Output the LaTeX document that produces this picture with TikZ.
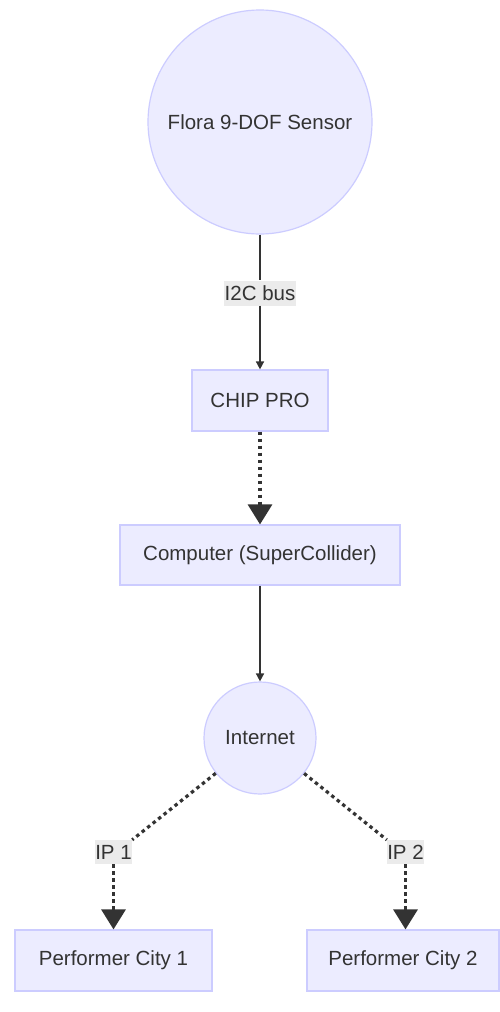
\documentclass[tikz,border=0pt]{standalone}
\usepackage{fontspec}
\setmainfont{Liberation Sans}
\usetikzlibrary{arrows.meta}
\definecolor{nodefill}{HTML}{ECECFF}
\definecolor{nodedraw}{HTML}{CCCCFF}
\definecolor{txt}{HTML}{333333}
\definecolor{lblfill}{HTML}{E8E8E8}
\tikzset{
  base/.style={fill=nodefill, draw=nodedraw, line width=1.2pt, text=txt, font=\fontsize{20.5}{24}\selectfont, inner sep=0pt},
  roundnode/.style={base, circle},
  boxnode/.style={base, rectangle},
  lbl/.style={fill=lblfill, fill opacity=0.85, text opacity=1, text=txt, font=\fontsize{20.5}{24}\selectfont, inner sep=0pt},
  solidedge/.style={draw=txt, line width=1.6pt},
  dottededge/.style={draw=txt, line width=3.2pt, dash pattern=on 3.5pt off 3.5pt},
  smallhead/.style={-{Triangle[width=8pt,length=8pt]}},
  bighead/.style={-{Triangle[width=24pt,length=20pt]}},
}
\begin{document}
\begin{tikzpicture}[x=1pt,y=-1pt]
\fill[white] (0,0) rectangle (500,1012);
\useasboundingbox (0,0) rectangle (500,1012);

\node[roundnode, minimum size=224pt] (flora) at (260,122) {Flora 9-DOF Sensor};
\node[lbl, minimum width=72pt, minimum height=25pt] (i2c) at (260,293) {I2C bus};
\node[boxnode, minimum width=136pt, minimum height=61pt] (chip) at (260,400.5) {CHIP PRO};
\node[boxnode, minimum width=280pt, minimum height=60pt] (comp) at (260,555) {Computer (SuperCollider)};
\node[roundnode, minimum size=112pt] (inet) at (260,738) {Internet};
\node[lbl, minimum width=37pt, minimum height=24pt] (ip1) at (113.5,852) {IP 1};
\node[lbl, minimum width=37pt, minimum height=24pt] (ip2) at (405.5,852) {IP 2};
\node[boxnode, minimum width=197pt, minimum height=61pt] (city1) at (113.5,960.5) {Performer City 1};
\node[boxnode, minimum width=192pt, minimum height=61pt] (city2) at (403,960.5) {Performer City 2};

\draw[solidedge] (flora.south) -- (i2c.north);
\draw[solidedge, smallhead] (i2c.south) -- (chip.north);
\draw[dottededge, bighead] (chip.south) -- (comp.north);
\draw[solidedge, smallhead] (comp.south) -- (inet.north);
\draw[dottededge] (inet) -- (ip1.north east);
\draw[dottededge, bighead] (ip1.south) -- (ip1.south |- city1.north);
\draw[dottededge] (inet) -- (ip2.north west);
\draw[dottededge, bighead] (ip2.south) -- (ip2.south |- city2.north);
\end{tikzpicture}
\end{document}
